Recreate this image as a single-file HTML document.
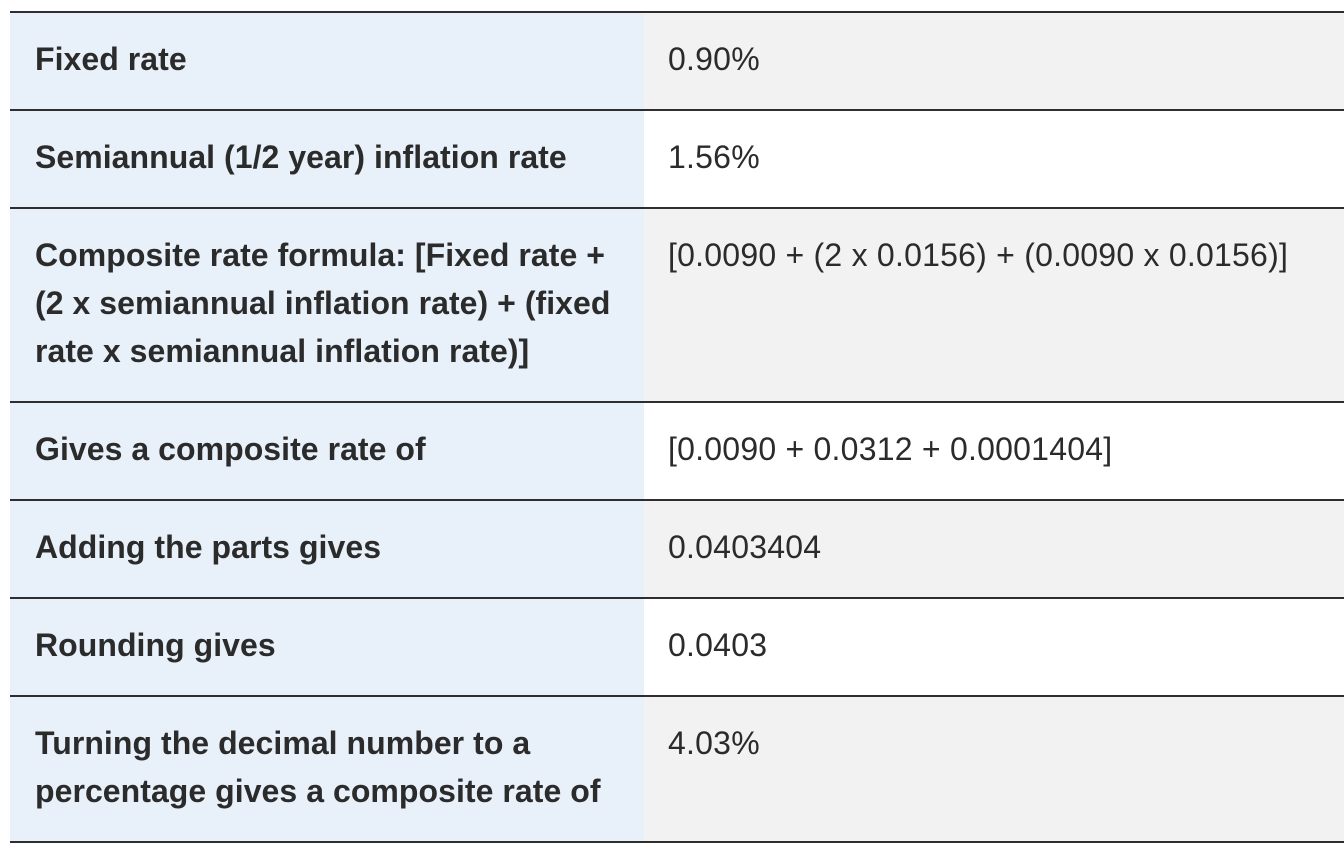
<!DOCTYPE html>
<html><head><meta charset="utf-8"><style>
html,body{margin:0;padding:0;background:#fff;width:1344px;height:854px;overflow:hidden}
table{position:absolute;left:10px;top:11px;width:1334px;border-collapse:collapse;font-family:"Liberation Sans",sans-serif;color:#2b2b2b;font-size:32px}
td{border-top:2px solid #2e2e2e;vertical-align:top;padding:22px 10px 26px 25px;line-height:48px;box-sizing:border-box;white-space:nowrap}
tr:last-child td{border-bottom:2px solid #2e2e2e}
td.l{width:634px;background:#e8f0f9;font-weight:bold;letter-spacing:0.05px}
td.r{padding-left:24px;letter-spacing:0.23px}
tr:nth-child(odd) td.r{background:#f2f2f2}
tr:nth-child(even) td.r{background:#fff}
</style></head><body>
<table>
<tr><td class="l" style="height:98px">Fixed rate</td><td class="r">0.90%</td></tr>
<tr><td class="l" style="height:98px">Semiannual (1/2 year) inflation rate</td><td class="r">1.56%</td></tr>
<tr><td class="l" style="height:194px">Composite rate formula: [Fixed rate +<br>(2 x semiannual inflation rate) + (fixed<br>rate x semiannual inflation rate)]</td><td class="r">[0.0090 + (2 x 0.0156) + (0.0090 x 0.0156)]</td></tr>
<tr><td class="l" style="height:98px">Gives a composite rate of</td><td class="r">[0.0090 + 0.0312 + 0.0001404]</td></tr>
<tr><td class="l" style="height:98px">Adding the parts gives</td><td class="r">0.0403404</td></tr>
<tr><td class="l" style="height:98px">Rounding gives</td><td class="r">0.0403</td></tr>
<tr><td class="l" style="height:146px">Turning the decimal number to a<br>percentage gives a composite rate of</td><td class="r">4.03%</td></tr>
</table>
</body></html>
